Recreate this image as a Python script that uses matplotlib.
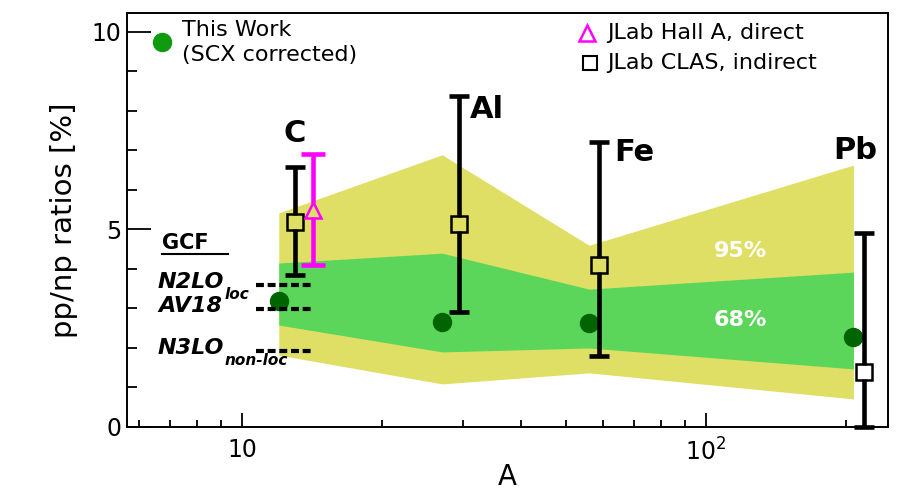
import numpy as np
import matplotlib
matplotlib.use('Agg')
import matplotlib.pyplot as plt

# confidence bands (68% / 95%) vs mass number A
band_A = [12, 27, 56, 208]
y95_hi = [5.42, 6.89, 4.60, 6.63]
y95_lo = [1.82, 1.09, 1.37, 0.71]
y68_hi = [4.15, 4.40, 3.49, 3.92]
y68_lo = [2.58, 1.90, 2.00, 1.47]

# this work (SCX corrected)
tw_A = [12, 27, 56, 208]
tw_ratio = [3.20, 2.66, 2.63, 2.28]

# JLab CLAS, indirect
clas_A = [13.0, 29.3, 58.8, 219.0]
clas_ratio = [5.19, 5.14, 4.10, 1.39]
clas_hi = [6.58, 8.38, 7.22, 4.91]
clas_lo = [3.85, 2.91, 1.80, 0.00]

# JLab Hall A, direct
halla_A = [14.2]
halla_ratio = [5.49]
halla_hi = [6.91]
halla_lo = [4.10]

nuclei = ['C', 'Al', 'Fe', 'Pb']
nuc_A = [13.0, 31.0, 63.4, 210.0]
nuc_y = [7.44, 8.03, 6.94, 7.00]

# GCF predictions
gcf_names = ['N2LO', 'AV18', 'N3LO']
gcf_sub = ['loc', '', 'non-loc']
gcf_vals = [3.60, 2.99, 1.92]
gcf_range = [10.7, 14.2]

yellow = '#dfdf66'
green = '#5bd65b'
dark_green = '#006400'

plt.rcParams['font.family'] = ['DejaVu Sans']

fig = plt.figure(figsize=(8.97, 4.9), dpi=100)
ax = fig.add_axes([0.1416, 0.1286, 0.8484, 0.8449])
ax.set_xscale('log')
ax.set_xlim(5.65, 247)
ax.set_ylim(0, 10.48)

ax.fill_between(band_A, y95_lo, y95_hi, color=yellow, lw=0, zorder=1)
ax.fill_between(band_A, y68_lo, y68_hi, color=green, lw=0, zorder=2)

ax.plot(tw_A, tw_ratio, 'o', color=dark_green, ms=13, zorder=3)


def split_bar(xs, ys, his, los, color, capw, gap=0.17):
    # vertical bar that stops at the edge of the hollow marker
    xs, ys, his, los = map(np.asarray, (xs, ys, his, los))
    ax.vlines(xs, ys + gap, his, color=color, lw=3.3, zorder=5)
    ax.vlines(xs, los, ys - gap, color=color, lw=3.3, zorder=5)
    ax.plot(xs, his, '_', color=color, ms=capw, mew=3.3, zorder=5)
    ax.plot(xs, los, '_', color=color, ms=capw, mew=3.3, zorder=5, clip_on=False)


split_bar(clas_A, clas_ratio, clas_hi, clas_lo, 'black', 15)
ax.plot(clas_A, clas_ratio, 's', mfc='none', mec='black', mew=1.8, ms=11, zorder=6)

split_bar(halla_A, halla_ratio, halla_hi, halla_lo, '#ff00ff', 17)
ax.plot(halla_A, halla_ratio, '^', mfc='none', mec='#ff00ff', mew=1.8, ms=12, zorder=6)

for name, a, y in zip(nuclei, nuc_A, nuc_y):
    ha = 'center' if name in ('C', 'Pb') else 'left'
    ax.text(a, y, name, fontsize=22, fontweight='bold', ha=ha, va='center', zorder=7)

ax.text(0.806, 0.425, '95%', transform=ax.transAxes, color='white', fontsize=16,
        fontweight='bold', ha='center', va='center', zorder=7)
ax.text(0.806, 0.258, '68%', transform=ax.transAxes, color='white', fontsize=16,
        fontweight='bold', ha='center', va='center', zorder=7)

# GCF lines and labels
ax.text(6.73, 4.66, 'GCF', fontsize=15, fontweight='bold', ha='left', va='center')
ax.plot([6.73, 9.33], [4.38, 4.38], color='black', lw=1.5)
for name, sub, v in zip(gcf_names, gcf_sub, gcf_vals):
    ax.plot(gcf_range, [v, v], color='black', lw=3, ls=(0, (1.9, 0.9)), zorder=4)
    t = ax.text(6.59, v + 0.08, name, fontsize=16, fontweight='bold', style='italic',
                ha='left', va='center')
    if sub:
        ax.annotate(sub, xy=(1.0, 0.0), xycoords=t, fontsize=11, fontweight='bold',
                    style='italic', ha='left', va='center', xytext=(0, -2),
                    textcoords='offset points')

# legends
ax.plot([0.046], [0.930], 'o', color='#109a10', ms=13, transform=ax.transAxes, clip_on=False)
ax.text(0.072, 0.959, 'This Work', transform=ax.transAxes, fontsize=16, va='center')
ax.text(0.072, 0.899, '(SCX corrected)', transform=ax.transAxes, fontsize=16, va='center')
ax.plot([0.604], [0.952], '^', mfc='none', mec='#ff00ff', mew=1.8, ms=12, transform=ax.transAxes)
ax.text(0.631, 0.952, 'JLab Hall A, direct', transform=ax.transAxes, fontsize=16, va='center')
ax.plot([0.608], [0.879], 's', mfc='none', mec='black', mew=1.5, ms=10, transform=ax.transAxes)
ax.text(0.631, 0.879, 'JLab CLAS, indirect', transform=ax.transAxes, fontsize=16, va='center')

# axes styling
ax.set_xticks([10, 100])
ax.set_xticklabels(['10', r'$10^2$'])
ax.set_yticks([0, 5, 10])
ax.set_yticks(np.arange(1, 10), minor=True)
ax.tick_params(axis='x', which='major', direction='in', length=10, width=1.3, labelsize=17, pad=8)
ax.tick_params(axis='x', which='minor', direction='in', length=5, width=1.3)
ax.tick_params(axis='y', which='major', direction='in', length=17, width=1.3, labelsize=17, pad=4)
ax.tick_params(axis='y', which='minor', direction='in', length=7, width=1.3)
for s in ax.spines.values():
    s.set_linewidth(1.4)
ax.set_xlabel('A', fontsize=20, labelpad=-2)
ax.set_ylabel('pp/np ratios [%]', fontsize=21, labelpad=10)

fig.savefig('out.png', dpi=100)
